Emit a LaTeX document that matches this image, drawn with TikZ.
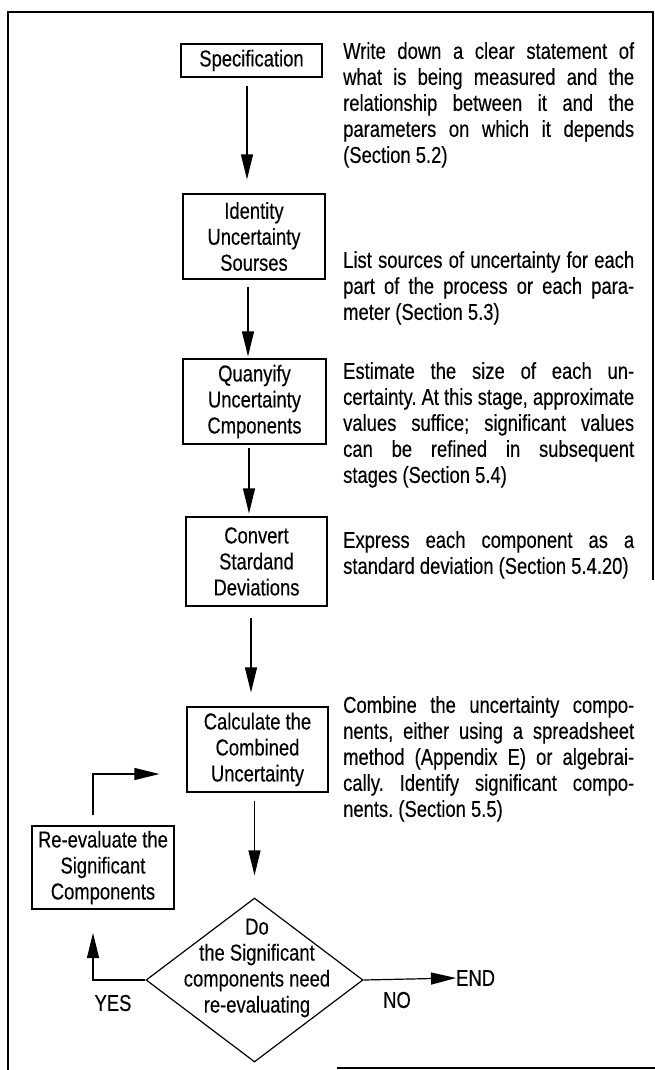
\documentclass[tikz,border=0pt]{standalone}
\usepackage{fontspec}
\setmainfont{Liberation Sans}[FakeStretch=0.8,FakeBold=0.3]
\usetikzlibrary{shapes.geometric,arrows.meta}
\frenchspacing
\newlength\parw
\setlength\parw{291pt}
\newcommand\jline[1]{\begingroup\spaceskip=0pt\relax\xspaceskip=0pt\relax\makebox[\parw][s]{#1}\endgroup}
\newcommand\jlast[1]{\begingroup\spaceskip=0pt\relax\xspaceskip=0pt\relax\makebox[\parw][l]{#1}\endgroup}
\begin{document}
\begin{tikzpicture}[x=1pt,y=-1pt,
  every node/.style={font=\fontsize{23pt}{26pt}\selectfont\frenchspacing},
  box/.style={draw, line width=1.2pt, minimum width=141pt, minimum height=85pt, align=center, inner sep=0pt},
  arr/.style={line width=1.2pt, -{Triangle[length=25pt,width=12pt]}},
  para/.style={anchor=north west, inner sep=0pt, align=left, text width=291pt},
  frame/.style={line width=1.5pt},
  lbl/.style={inner sep=0pt}
]
\useasboundingbox (0,0) rectangle (655,1070);
% frame
\draw[frame] (8,1070) -- (8,12) -- (653,12) -- (653,580);
\draw[frame] (337,1068) -- (655,1068);

% boxes
\node[box, minimum width=141pt, minimum height=33pt] (spec) at (251.5,60.5) {Specification};
\node[box, minimum width=142pt] (ident) at (254,236.5) {Identity\\Uncertainty\\Sourses};
\node[box, minimum width=143pt] (quan) at (254.5,401.5) {Quanyify\\Uncertainty\\Cmponents};
\node[box, minimum height=89pt] (conv) at (256.5,561.5) {Convert\\Stardand\\Deviations};
\node[box] (calc) at (257.5,749.5) {Calculate the\\Combined\\Uncertainty};
\node[box, minimum width=142pt, minimum height=83pt] (reev) at (103,867.5) {Re-evaluate the\\Significant\\Components};
\node[draw, diamond, line width=1.2pt, minimum width=217pt, minimum height=164pt, inner sep=0pt] (dia) at (254.5,980) {};
\node[lbl, align=center] (dtext) at (257,968) {Do\\the Significant\\components need\\re-evaluating};

% descriptions
\node[para] (p1) at (343,42) {\jline{Write down a clear statement of}\\\jline{what is being measured and the}\\\jline{relationship between it and the}\\\jline{parameters on which it depends}\\\jlast{(Section 5.2)}};
\node[para] (p2) at (343,251) {\jline{List sources of uncertainty for each}\\\jline{part of the process or each para-}\\\jlast{meter (Section 5.3)}};
\node[para] (p3) at (343,362) {\jline{Estimate the size of each un-}\\\jline{certainty. At this stage, approximate}\\\jline{values suffice; significant values}\\\jline{can be refined in subsequent}\\\jlast{stages (Section 5.4)}};
\node[para] (p4) at (343,531) {\jline{Express each component as a}\\\jlast{standard deviation (Section 5.4.20)}};
\node[para] (p5) at (343,696) {\jline{Combine the uncertainty compo-}\\\jline{nents, either using a spreadsheet}\\\jline{method (Appendix E) or algebrai-}\\\jline{cally. Identify significant compo-}\\\jlast{nents. (Section 5.5)}};

% end labels
\node[lbl, anchor=west] (endn) at (456,978) {END};
\node[lbl] (no) at (397,1000) {NO};
\node[lbl] (yes) at (113,1003) {YES};

% connectors
\draw[arr, shorten >=14pt] ([xshift=-4.5pt]spec.south) ++(0,-8pt) coordinate (a1s) -- (a1s |- ident.north);
\draw[arr, shorten >=2pt] ([xshift=-6pt]ident.south) ++(0,-7pt) coordinate (a2s) -- (a2s |- quan.north);
\draw[arr, shorten >=3pt] ([xshift=-5.5pt]quan.south) ++(0,-3pt) coordinate (a3s) -- (a3s |- conv.north);
\draw[arr, shorten >=14pt] ([xshift=-5.5pt]conv.south) ++(0,-11pt) coordinate (a4s) -- (a4s |- calc.north);
\draw[arr, shorten >=22pt] ([xshift=-3pt]calc.south) ++(0,-8pt) coordinate (a5s) -- (a5s |- dia.north);
\draw[arr] (dia.east) -- (endn.west);
\coordinate (yestip) at (93,933);
\draw[arr] (dia.west) -| (yestip);
\coordinate (rs) at ([shift={(-10pt,10pt)}]reev.north);
\coordinate (rt) at ([shift={(-27pt,-24.5pt)}]calc.west);
\draw[arr] (rs) |- (rt);
\end{tikzpicture}
\end{document}
